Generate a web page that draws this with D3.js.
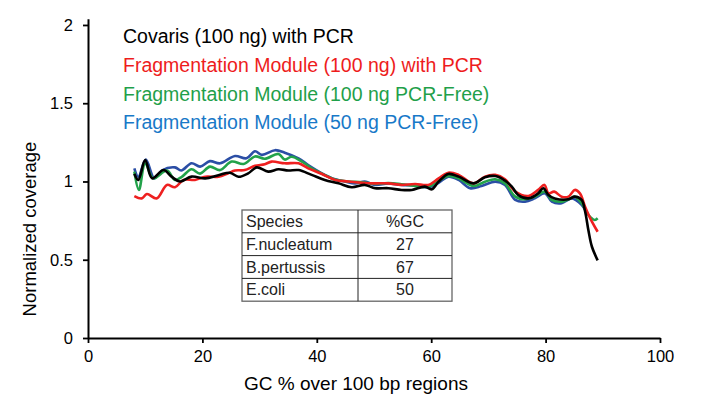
<!DOCTYPE html>
<html>
<head>
<meta charset="utf-8">
<script src="https://cdn.jsdelivr.net/npm/d3@7"></script>
<style>
  body { margin: 0; background: #fff; }
  svg { display: block; font-family: "Liberation Sans", Arial, sans-serif; }
</style>
</head>
<body>
<svg id="chart" width="707" height="398"></svg>
<script>
// coverage vs GC, [gc %, normalized coverage] pairs
const covarisPCR = [[8.1,1.05],[8.8,1.01],[10,1.137],[11.2,1.02],[13.2,1.073],[14.6,1.031],[16.1,1.0],[18.1,1.031],[20.5,1.02],[22.8,1.04],[24.8,1.056],[26.3,1.03],[28,1.052],[29.5,1.09],[31.5,1.063],[33.3,1.078],[35,1.07],[36.8,1.073],[39.1,1.042],[41.4,1.01],[43.8,0.988],[46.1,0.963],[48.4,0.978],[50.2,0.957],[52.5,0.957],[54.8,0.946],[56.6,0.946],[58.9,0.967],[60.1,0.95],[61.3,0.999],[63,1.048],[64.8,1.031],[67.4,0.988],[69.4,1.027],[71.2,1.035],[72.3,1.02],[74.1,0.967],[75.2,0.914],[77,0.892],[78.7,0.924],[79.6,0.957],[80.5,0.914],[81.6,0.892],[84,0.886],[85.1,0.903],[86.3,0.882],[86.9,0.81],[87.5,0.685],[88.1,0.583],[89.1,0.496]];
const fragPCR = [[8.1,0.907],[9.4,0.892],[10.3,0.92],[12,0.892],[13.8,0.978],[15.2,0.963],[16.7,1.01],[18.7,1.01],[20.5,1.03],[22.8,1.03],[24.5,1.052],[25.7,1.07],[27.4,1.073],[29.2,1.1],[30.9,1.11],[32.1,1.127],[34.4,1.116],[36.8,1.116],[38.5,1.084],[40.9,1.048],[43.2,1.01],[45.5,1.0],[47.9,0.992],[50.2,0.988],[52.5,0.988],[54.8,0.978],[57.2,0.984],[59.5,0.978],[61.3,1.02],[63,1.056],[64.8,1.042],[67.4,0.988],[69.4,1.031],[71.2,1.042],[72.9,1.014],[74.7,0.935],[77,0.907],[78.7,0.946],[79.8,0.978],[80.5,0.924],[81.5,0.935],[82.8,0.903],[84,0.903],[85.1,0.946],[86,0.924],[86.9,0.839],[88.1,0.743],[89.1,0.679]];
const frag100Free = [[8.1,1.063],[8.9,0.946],[10,1.116],[11.4,1.02],[13.8,1.07],[15.2,1.01],[16.4,1.03],[18.1,1.078],[19.6,1.05],[21.3,1.095],[23.1,1.073],[25.1,1.127],[27.2,1.112],[29.2,1.16],[30.9,1.145],[33.3,1.176],[34.4,1.14],[35.6,1.158],[37.4,1.127],[39.1,1.084],[40.9,1.05],[43.2,1.012],[45.5,1.0],[47.9,0.995],[50.2,0.985],[52.5,0.99],[54.8,0.982],[57.2,0.971],[59.5,0.967],[61.3,1.005],[63,1.035],[64.8,1.02],[67.4,0.971],[69.4,0.999],[71.2,1.014],[72.9,0.988],[74.7,0.903],[76.4,0.886],[78.1,0.903],[79.9,0.935],[81.1,0.882],[82.8,0.871],[84,0.886],[85.1,0.903],[86.3,0.861],[87.5,0.786],[88.6,0.754],[89.1,0.765]];
const frag50Free = [[8.1,1.084],[8.8,1.03],[10.1,1.14],[11.6,1.02],[12.9,1.07],[15.2,1.09],[16.3,1.07],[18.1,1.116],[19.6,1.095],[21.3,1.13],[23.1,1.116],[25.7,1.163],[27.7,1.148],[29.2,1.193],[30.4,1.17],[32.7,1.2],[34.4,1.184],[36.8,1.148],[38.5,1.105],[40.9,1.052],[43.2,1.014],[44.9,1.0],[46.7,0.988],[48.4,0.999],[50.2,0.978],[52.5,0.988],[54.8,0.978],[57.2,0.975],[59.5,0.963],[61.3,0.992],[63,1.031],[64.8,1.01],[66.8,0.957],[68.8,0.971],[71.2,0.999],[72.9,0.978],[74.7,0.882],[76.4,0.871],[78.1,0.892],[79.9,0.924],[81.1,0.871],[82.8,0.861],[84.6,0.892],[86.3,0.85],[87.3,0.79]];

const seriesNames = ["Covaris (100 ng) with PCR", "Fragmentation Module (100 ng) with PCR",
                     "Fragmentation Module (100 ng PCR-Free)", "Fragmentation Module (50 ng PCR-Free)"];

// inset table
const tableHeader = ["Species", "%GC"];
const species = ["F.nucleatum", "B.pertussis", "E.coli"];
const speciesGC = [27, 67, 50];

const xTicks = [0, 20, 40, 60, 80, 100];
const yTicks = [0, 0.5, 1, 1.5, 2];

const svg = d3.select("#chart");

const x = d3.scaleLinear().domain([0, 100]).range([88, 660]);
const y = d3.scaleLinear().domain([0, 2.04]).range([338, 18.7]);

const lineColors = ["#000000", "#ee2020", "#22a24a", "#2b4ea5"];
const textColors = ["#000000", "#ee1c1c", "#1fa04a", "#1879c8"];

// x axis
const xAxis = svg.append("g")
    .attr("transform", `translate(0,${y(0)})`)
    .call(d3.axisBottom(x).tickValues(xTicks).tickSize(5).tickSizeOuter(0).tickPadding(7));

// y axis
const yAxis = svg.append("g")
    .attr("transform", `translate(${x(0)},0)`)
    .call(d3.axisLeft(y).tickValues(yTicks).tickSize(5).tickSizeOuter(0).tickPadding(10)
        .tickFormat(d => String(d)));

[xAxis, yAxis].forEach(a => {
    a.select(".domain").attr("stroke", "#000").attr("stroke-width", 2);
    a.selectAll(".tick line").attr("stroke", "#000").attr("stroke-width", 1.8);
    a.selectAll(".tick text").attr("font-size", 16.5).attr("fill", "#000")
        .attr("font-family", "'Liberation Sans', Arial, sans-serif");
});

// axis titles
svg.append("text")
    .attr("x", 356)
    .attr("y", 390)
    .attr("text-anchor", "middle")
    .attr("font-size", 19)
    .text("GC % over 100 bp regions");

svg.append("text")
    .attr("transform", `translate(36,${229}) rotate(-90)`)
    .attr("text-anchor", "middle")
    .attr("font-size", 18.5)
    .text("Normalized coverage");

// lines
const line = d3.line()
    .x(d => x(d[0]))
    .y(d => y(d[1]))
    .curve(d3.curveCatmullRom.alpha(0.5));

const allSeries = [covarisPCR, fragPCR, frag100Free, frag50Free];
// draw order: blue under, then green, red, black on top
[3, 2, 1, 0].forEach(i => {
    svg.append("path")
        .datum(allSeries[i])
        .attr("fill", "none")
        .attr("stroke", lineColors[i])
        .attr("stroke-width", 2.6)
        .attr("stroke-linejoin", "round")
        .attr("d", line);
});

// legend (text only)
seriesNames.forEach((name, i) => {
    svg.append("text")
        .attr("x", 123)
        .attr("y", 43 + i * 28.8)
        .attr("font-size", 19.5)
        .attr("fill", textColors[i])
        .text(name);
});

// inset table
const tLeft = 242, tRight = 452, tMid = 358, tTop = 210, rowH = 22.8;
const rows = [tableHeader].concat(species.map((s, i) => [s, String(speciesGC[i])]));
const tbl = svg.append("g");

tbl.append("rect")
    .attr("x", tLeft).attr("y", tTop)
    .attr("width", tRight - tLeft).attr("height", rowH * rows.length)
    .attr("fill", "#fff").attr("stroke", "#666").attr("stroke-width", 1.3);

rows.forEach((r, i) => {
    if (i > 0) {
        tbl.append("line")
            .attr("x1", tLeft).attr("x2", tRight)
            .attr("y1", tTop + i * rowH).attr("y2", tTop + i * rowH)
            .attr("stroke", "#222").attr("stroke-width", 1);
    }
    tbl.append("text")
        .attr("x", tLeft + 4)
        .attr("y", tTop + i * rowH + rowH / 2 + 5.5)
        .attr("font-size", 16).attr("fill", "#222")
        .text(r[0]);
    tbl.append("text")
        .attr("x", (tMid + tRight) / 2)
        .attr("y", tTop + i * rowH + rowH / 2 + 5.5)
        .attr("text-anchor", "middle")
        .attr("font-size", 16).attr("fill", "#222")
        .text(r[1]);
});

tbl.append("line")
    .attr("x1", tMid).attr("x2", tMid)
    .attr("y1", tTop).attr("y2", tTop + rowH * rows.length)
    .attr("stroke", "#222").attr("stroke-width", 1);
</script>
</body>
</html>
